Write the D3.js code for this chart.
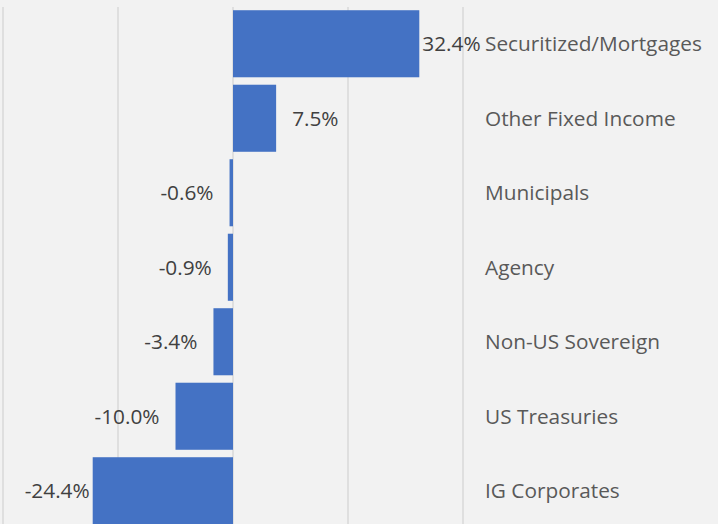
<!DOCTYPE html>
<html><head><meta charset="utf-8">
<script src="https://cdn.jsdelivr.net/npm/d3@7/dist/d3.min.js"></script>
<style>html,body{margin:0;padding:0;background:#f2f2f2;overflow:hidden}</style>
</head><body>
<svg id="chart" width="718" height="524"></svg>
<script>
const categories = ["Securitized/Mortgages","Other Fixed Income","Municipals","Agency","Non-US Sovereign","US Treasuries","IG Corporates"];
const values = [32.4, 7.5, -0.6, -0.9, -3.4, -10.0, -24.4];
const gridTicks = [-40, -20, 0, 20, 40];

const svg = d3.select("#chart");
const W = 718, H = 524;
svg.append("rect").attr("width", W).attr("height", H).attr("fill", "#f2f2f2");

const x = d3.scaleLinear().domain([-40, 40]).range([3, 463]);
const y = d3.scaleBand().domain(categories).range([6.5, 528]).paddingInner(0.1).paddingOuter(0.05);

const font = "'Open Sans', Lato, sans-serif";

svg.append("g").selectAll("line").data(gridTicks).join("line")
  .attr("x1", d => x(d)).attr("x2", d => x(d))
  .attr("y1", 7).attr("y2", H)
  .attr("stroke", "#d9d9d9").attr("stroke-width", 1.5);

svg.append("g").selectAll("rect").data(values).join("rect")
  .attr("x", d => Math.min(x(0), x(d)))
  .attr("width", d => Math.abs(x(d) - x(0)))
  .attr("y", (d, i) => y(categories[i]))
  .attr("height", y.bandwidth())
  .attr("fill", "#4472c4");

svg.append("g").selectAll("text").data(values).join("text")
  .attr("x", d => {
    const gap = Math.abs(d) > 20 ? 3 : 16;
    return d >= 0 ? x(d) + gap : x(d) - gap;
  })
  .attr("y", (d, i) => y(categories[i]) + y.bandwidth() / 2)
  .attr("dy", "0.35em")
  .attr("text-anchor", d => d >= 0 ? "start" : "end")
  .attr("font-family", font).attr("font-size", 20.8)
  .attr("fill", "#404040")
  .text(d => d.toFixed(1) + "%");

svg.append("g").selectAll("text").data(categories).join("text")
  .attr("x", 485)
  .attr("y", d => y(d) + y.bandwidth() / 2)
  .attr("dy", "0.35em")
  .attr("font-family", font).attr("font-size", 20.8)
  .attr("fill", "#595959")
  .text(d => d);
</script>
</body></html>
